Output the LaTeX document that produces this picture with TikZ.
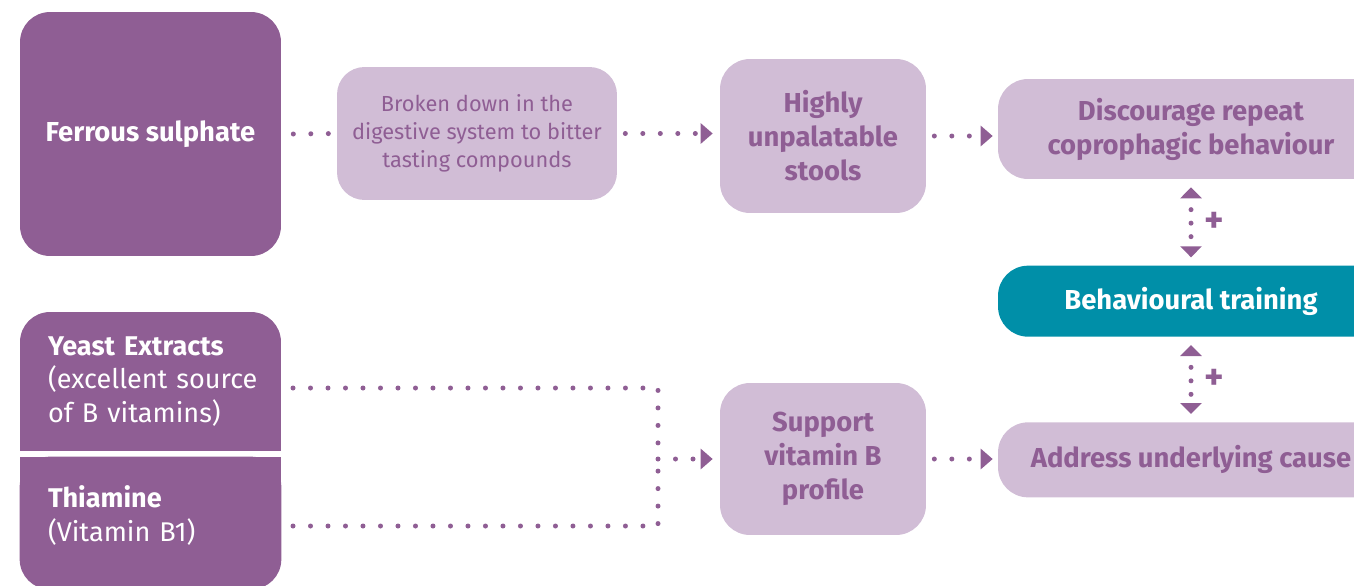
\documentclass[tikz,border=0pt]{standalone}
\usepackage{fontspec}
\setmainfont{Fira Sans}
\usetikzlibrary{positioning,arrows.meta,backgrounds}

\definecolor{plum}{HTML}{8F5E94}
\definecolor{lilac}{HTML}{D1BDD6}
\definecolor{tealbox}{HTML}{008FA8}

\newcommand{\bigbold}{\fontsize{15.6}{19.3}\selectfont\bfseries}
\newcommand{\bigreg}{\fontsize{15.4}{19.3}\selectfont}
\newcommand{\smallreg}{\fontsize{12.4}{15.9}\selectfont}

\tikzset{
  darkbox/.style = {fill = plum, rounded corners = 0.6cm, text = white, font = \bigbold},
  lightbox/.style = {fill = lilac, rounded corners = 0.6cm, text = plum, font = \bigbold, align = center},
  dotline/.style = {draw = plum, line width = 0.1cm, line cap = round, dash pattern = on 0pt off 0.35cm},
  dotarrow/.style = {dotline, -{Triangle[length = 0.24cm, width = 0.4cm]}},
  vdots/.style = {draw = plum, line width = 0.1cm, line cap = round, dash pattern = on 0pt off 0.27cm, dash phase = 0.03cm,
    {Triangle[length = 0.22cm, width = 0.42cm]}-{Triangle[length = 0.22cm, width = 0.42cm]},
    shorten <= 0.16cm, shorten >= 0.16cm},
  plusmark/.style = {text = plum, font = \fontsize{21}{21}\selectfont\bfseries, inner sep = 0pt}
}

\begin{document}
\begin{tikzpicture}[x = 0.02cm, y = -0.02cm]
\useasboundingbox (0,0) rectangle (1354,585);
\clip (0,0) rectangle (1354,585);

% top row
\node[darkbox, minimum width = 5.22cm, minimum height = 4.88cm] (10) at (150.5,134) {Ferrous sulphate};
\node[lightbox, font = \smallreg, rounded corners = 0.55cm, minimum width = 5.6cm, minimum height = 2.66cm] (11) at (477,133.5) {Broken down in the\\digestive system to bitter\\tasting compounds};
\node[lightbox, minimum width = 4.12cm, minimum height = 3.08cm] (12) at (823,136) {Highly\\unpalatable\\stools};
\node[lightbox, minimum width = 7.72cm, minimum height = 2cm] (13) at (1191,129) {Discourage repeat\\coprophagic behaviour};
\node[lightbox, fill = tealbox, text = white, minimum width = 7.72cm, minimum height = 1.42cm, below = 1.72cm of 13] (30) {Behavioural training};
\node[lightbox, minimum width = 7.72cm, minimum height = 1.5cm, below = 1.7cm of 30] (23) {Address underlying cause};

% bottom row
\node[darkbox, font = \bigreg, align = left, text width = 4.1cm, inner xsep = 0.56cm, minimum width = 5.22cm, minimum height = 2.78cm] (20) at (150.5,381.5) {\mbox{\textbf{Yeast Extracts}}\\\mbox{(excellent source}\\\mbox{of B vitamins)}};
\node[darkbox, font = \bigreg, align = left, text width = 4.1cm, inner xsep = 0.56cm, minimum width = 5.22cm, minimum height = 2.34cm] (21) at (150.5,515.5) {\mbox{\textbf{Thiamine}}\\\mbox{(Vitamin B1)}};
\node[lightbox, minimum width = 4.12cm, minimum height = 3.04cm] (22) at (823,459) {Support\\vitamin B\\profile};

\begin{scope}[on background layer]
\fill[plum] (20.west) rectangle (20.south east);
\fill[plum] (21.north west) rectangle (21.east);
\fill[plum, rounded corners = 0.6cm] (21.north west) rectangle ([yshift = -0.3cm]21.south east);
\end{scope}

\coordinate (y1) at (293,388);
\coordinate (y2) at (293,526);
\coordinate (j) at (658,459);

\draw[dotline] ([xshift = 0.24cm]10.east) -- (11.west);
\draw[dotarrow, shorten >= 0.14cm] ([xshift = 0.16cm]11.east) -- (12.west |- 11.east);
\draw[dotarrow, shorten >= 0.1cm] ([xshift = 0.16cm]12.east) -- (13.west |- 12.east);
\draw[dotline] (y1) -| (j);
\draw[dotline] (y2) -| (j);
\draw[dotarrow, shorten >= 0.14cm] (j) -- (22.west);
\draw[dotarrow, shorten >= 0.1cm] ([xshift = 0.16cm]22.east) -- (23.west |- 22.east);
\draw[vdots] (13) -- (30) node[midway, right = 0.22cm, plusmark] {+};
\draw[vdots] (30) -- (23) node[midway, right = 0.22cm, plusmark] {+};
\end{tikzpicture}
\end{document}
